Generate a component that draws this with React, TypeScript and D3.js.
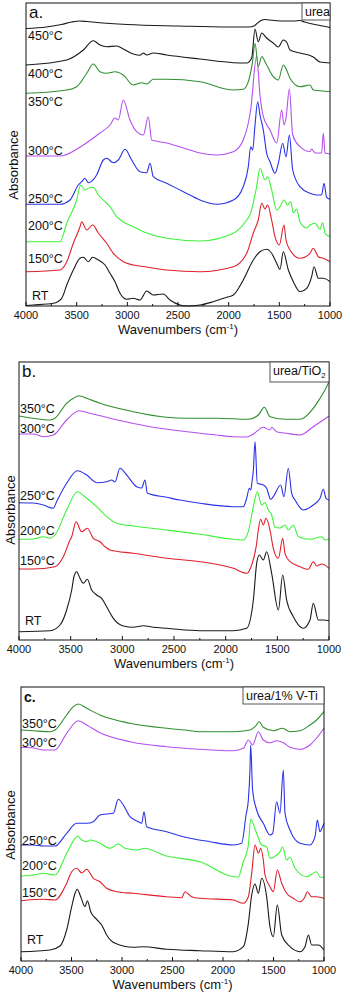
import * as d3 from "d3";

// wavenumber (cm-1), absorbance offset (a.u.)
type Pt = [number, number];

const WN_TICKS = [4000, 3500, 3000, 2500, 2000, 1500, 1000];
const WN_MINOR = [3750, 3250, 2750, 2250, 1750, 1250];

const A_RT: Pt[] = [[4000,0.5],[3928,1],[3730,2.7],[3648,7.7],[3598,21],[3533,36],[3467,47.7],[3434,48.7],[3385,44.3],[3342,48.7],[3286,46],[3220,41],[3171,32.7],[3122,24.3],[3072,12.7],[3007,6.7],[2941,7.7],[2875,6],[2809,15],[2744,11],[2645,12],[2579,6],[2480,1],[2415,0],[2283,1],[2152,4.3],[2020,8.7],[1954,11],[1856,26],[1757,46],[1691,54.3],[1625,56.7],[1576,52.7],[1526,42.7],[1493,36.7],[1461,54.3],[1411,36],[1362,24.3],[1296,14.3],[1230,17.7],[1181,29.3],[1158,39.3],[1115,27.7],[1066,27.7],[1000,24.3]];
const A_150: Pt[] = [[4000,34.3],[3664,36],[3598,44.3],[3533,62.7],[3467,79.3],[3451,84.3],[3401,76],[3342,81],[3286,73],[3204,62.7],[3138,52.7],[3040,44.3],[2941,41],[2826,39.3],[2612,36],[2283,34.3],[1954,39.3],[1822,52.7],[1757,73],[1708,86],[1674,102.7],[1642,97],[1615,101],[1576,86],[1543,69.3],[1500,61],[1454,81],[1434,66],[1395,56],[1296,47.7],[1198,52.7],[1165,57.7],[1115,49.3],[1066,47.7],[1000,44.3]];
const A_200: Pt[] = [[4000,64.3],[3664,64.3],[3598,82.7],[3500,106],[3460,121],[3418,116],[3385,117.7],[3336,118.7],[3286,111],[3220,104.3],[3171,99.3],[3105,89.3],[3040,84],[2941,79.3],[2842,74.3],[2612,67.7],[2283,65],[1954,72.7],[1822,86],[1790,91],[1724,119.3],[1691,137.7],[1642,126],[1615,129.3],[1576,116],[1526,96],[1493,99.3],[1454,106],[1421,101],[1388,104.3],[1362,93],[1329,97],[1296,84],[1230,78],[1198,81],[1148,82.7],[1099,76.7],[1072,83.3],[1049,72.7],[1000,69.3]];
const A_250: Pt[] = [[4000,101.7],[3664,101.7],[3566,106],[3484,121],[3451,124.3],[3418,127.7],[3385,123.3],[3303,131],[3237,146],[3204,147.7],[3138,143.3],[3089,146],[3023,156.7],[2957,146],[2875,134.3],[2809,133.3],[2776,142.7],[2744,129.3],[2612,122.7],[2447,114.3],[2283,106],[2118,101.7],[1954,106],[1856,119.3],[1806,139.3],[1783,159.3],[1763,156],[1740,181],[1714,204.3],[1691,191],[1658,176],[1625,152.7],[1592,144.3],[1543,132.7],[1510,142.7],[1467,162.7],[1434,149.3],[1401,171],[1368,136],[1296,119.3],[1198,112.7],[1132,111],[1083,111],[1059,122.7],[1033,108.7],[1000,106.7]];
const A_300: Pt[] = [[4000,150],[3664,150],[3434,161],[3270,173],[3171,181],[3122,188],[3089,186],[3040,206],[2974,186],[2908,174.3],[2842,171],[2793,189.3],[2760,166],[2612,163],[2447,158],[2283,153],[2118,151],[1954,154.3],[1856,166],[1806,183],[1783,196],[1724,250],[1691,211],[1658,189.3],[1592,176],[1526,163],[1477,196],[1454,181],[1434,188],[1401,217],[1368,171],[1296,159.3],[1198,154.3],[1181,157],[1148,153],[1083,153],[1066,173],[1049,153],[1000,152]];
const A_350: Pt[] = [[4000,212.7],[3598,216],[3500,219.3],[3401,232.7],[3336,242],[3270,234.3],[3204,232.7],[3122,234.3],[3040,231],[2941,221],[2858,223.3],[2809,222],[2744,226.7],[2612,226.7],[2283,224.3],[1954,216],[1856,216.7],[1806,224.3],[1767,242.7],[1740,262.7],[1708,239.3],[1674,249.3],[1625,241],[1560,229.3],[1510,226],[1461,241],[1428,236],[1395,227.7],[1296,219.3],[1198,221],[1165,216],[1099,215.3],[1000,214.3]];
const A_400: Pt[] = [[4000,241],[3598,246],[3434,256],[3336,265.3],[3270,261],[3204,259.3],[3105,260],[3040,257],[2941,252],[2875,250.7],[2842,253],[2809,251],[2744,253],[2612,251],[2283,247],[1954,243.3],[1822,243],[1773,248],[1740,277],[1708,264.3],[1674,273],[1625,268],[1560,263],[1510,259],[1461,266],[1428,264],[1395,256],[1296,253],[1165,249],[1099,244],[1000,243]];
const A_450: Pt[] = [[4000,277.5],[3800,279],[3650,281.5],[3550,284],[3470,285],[3400,284.5],[3300,283.5],[3000,281.5],[2500,280],[2000,279],[1800,279],[1750,280],[1720,282.5],[1680,285.5],[1640,286.5],[1600,286],[1550,285.5],[1450,285],[1350,285],[1300,285.5],[1250,284],[1150,281.5],[1000,278.5]];

const B_RT: Pt[] = [[4000,8.3],[3700,9.3],[3603,15],[3539,30],[3490,50],[3468,63.3],[3442,68.3],[3410,61.7],[3378,56.7],[3339,60.7],[3297,50],[3248,45],[3200,41.7],[3152,33.3],[3087,21.7],[2990,14],[2894,12.7],[2797,14.3],[2700,12.7],[2571,11.7],[2248,9.3],[1926,9.3],[1797,11.7],[1732,40],[1700,76.7],[1674,85],[1636,80],[1603,88.3],[1555,66.7],[1490,30],[1448,65],[1410,40],[1345,23.3],[1249,11.7],[1184,20],[1152,36.7],[1103,20],[1055,20],[1000,19.3]];
const B_150: Pt[] = [[4000,71],[3862,71],[3652,73.3],[3571,83.3],[3506,100],[3490,103.3],[3448,118.3],[3394,108.3],[3339,111.7],[3281,101.7],[3216,98.3],[3168,93.3],[3119,90],[2894,86.7],[2571,81.7],[2248,78.3],[1926,71.7],[1797,66.7],[1748,75],[1700,96.7],[1684,110],[1662,120.7],[1636,115],[1610,121.7],[1571,110],[1539,91.7],[1490,81.7],[1448,101.7],[1426,86.7],[1377,78.3],[1281,73.3],[1200,70.7],[1152,78.3],[1119,74],[1071,76],[1000,71.7]];
const B_200: Pt[] = [[4000,100.7],[3862,101],[3765,103.3],[3700,101.7],[3652,105],[3539,130],[3435,148.3],[3345,141.7],[3248,133.3],[3152,123.3],[3055,116.7],[2894,114],[2571,110],[2248,105.7],[1926,100.7],[1829,100],[1781,108.3],[1732,133.3],[1694,148.3],[1652,135],[1619,137.3],[1587,130],[1555,125],[1523,112.7],[1474,112],[1426,115],[1394,110],[1345,115],[1297,103.3],[1184,100.7],[1071,103.3],[1039,100],[1000,101]];
const B_250: Pt[] = [[4000,137.3],[3862,137],[3765,135],[3668,131.7],[3636,138.3],[3539,156.7],[3435,169.3],[3345,165],[3248,157.3],[3152,158.3],[3103,160],[3071,158],[3023,171.7],[2958,165],[2861,153.3],[2813,152],[2781,160],[2758,146.7],[2571,142.7],[2442,140],[2248,136.7],[1926,133.3],[1829,133.3],[1797,141.7],[1771,151.7],[1758,150],[1745,158.3],[1732,170],[1716,198.3],[1694,156.7],[1636,155],[1603,151.7],[1565,140.7],[1539,143.3],[1468,155],[1436,143.3],[1394,171.7],[1361,146.7],[1329,140],[1249,130],[1152,135],[1087,141.7],[1055,150.7],[1029,141.7],[1000,140]];
const B_300: Pt[] = [[4000,206],[3862,206],[3765,203.3],[3668,205],[3539,220],[3419,229.3],[3313,226.7],[3119,221.7],[2732,213.3],[2377,208.3],[2087,205],[1926,203.3],[1797,203],[1732,206],[1636,212.7],[1571,210],[1555,212.7],[1506,208.3],[1410,206.7],[1281,205],[1152,213.3],[1000,224]];
const B_350: Pt[] = [[4000,224],[3862,221.7],[3700,220],[3652,221.7],[3539,236.7],[3474,241.7],[3419,244.3],[3345,241.7],[3216,236.7],[2894,228.3],[2571,222.7],[2377,221.7],[2087,221.7],[1781,220.7],[1684,225],[1626,232.7],[1571,223.3],[1410,220.7],[1281,220.7],[1152,231.7],[1087,241.7],[1039,250],[1000,258.3]];

const C_RT: Pt[] = [[4000,9.3],[3713,11],[3614,15],[3548,31],[3498,54.3],[3465,67.7],[3443,71.7],[3409,64.3],[3366,54.3],[3343,60.3],[3310,49.3],[3251,41.7],[3201,36],[3152,26],[3069,17.7],[2888,13.7],[2789,14.3],[2558,11.7],[2228,10.3],[1898,9.3],[1799,14.3],[1749,37.7],[1716,66],[1683,77],[1650,67.7],[1617,82.7],[1568,64.3],[1535,34.3],[1502,24.3],[1462,56],[1419,26],[1337,14.3],[1238,9.3],[1188,14.3],[1155,26],[1122,16],[1056,16],[1000,11]];
const C_150: Pt[] = [[4000,60.3],[3779,61.7],[3663,61],[3548,77.7],[3498,89.3],[3449,92.7],[3399,88],[3350,91.7],[3284,82.7],[3218,79.3],[3152,72.7],[3053,69.3],[2888,67.7],[2558,64.3],[2409,63.3],[2376,69.3],[2343,67],[2310,64.3],[2228,62.7],[1898,61],[1799,57.7],[1749,64.3],[1716,87.7],[1683,116],[1650,107.7],[1627,112.7],[1601,101],[1584,86],[1535,74.3],[1502,69.3],[1462,91],[1419,77.7],[1370,67.7],[1304,62.7],[1238,59.3],[1188,64.3],[1166,69.3],[1122,64.3],[1073,64.3],[1000,62.7]];
const C_200: Pt[] = [[4000,85],[3878,86],[3779,87.7],[3663,86],[3548,107.7],[3465,122.7],[3443,125],[3399,121],[3350,119.3],[3317,121],[3218,117.7],[3119,112.7],[3037,117],[2970,112.7],[2855,111],[2782,112.7],[2558,105],[2228,99.3],[1898,84.3],[1848,84],[1799,99.3],[1772,106],[1749,116],[1726,141.7],[1667,127.7],[1617,116],[1568,114.3],[1535,102.7],[1469,106],[1436,109.3],[1410,114.3],[1370,101],[1337,103.7],[1287,92.7],[1172,84.3],[1073,89.3],[1040,84],[1000,83.7]];
const C_250: Pt[] = [[4000,116],[3878,116],[3779,115],[3663,115],[3548,127.7],[3449,137.7],[3350,137.7],[3284,139.3],[3218,146],[3152,147],[3086,147.7],[3037,161.7],[2987,156],[2921,144.3],[2838,139.3],[2805,137.7],[2782,149.3],[2756,134.3],[2558,129.3],[2393,124.3],[2129,119.3],[1898,116],[1815,117.7],[1772,146],[1749,161],[1733,191],[1726,216],[1707,171],[1667,151],[1601,137.7],[1535,126],[1508,127.7],[1469,159.3],[1436,147.7],[1403,191],[1386,147.7],[1337,131],[1238,117.7],[1139,116],[1089,124.3],[1066,141],[1040,129.3],[1007,136],[1000,137.7]];
const C_300: Pt[] = [[4000,213.7],[3878,213],[3779,211],[3663,211],[3548,227.7],[3433,240.3],[3350,236],[3218,228.3],[2921,219.3],[2558,214.3],[2228,211.7],[1898,210.3],[1799,212.7],[1749,221],[1707,216],[1650,229.3],[1601,221],[1535,218.3],[1469,220.3],[1403,218.3],[1337,213.7],[1238,211.7],[1139,216],[1000,232.7]];
const C_350: Pt[] = [[4000,231],[3878,230.3],[3713,229.3],[3663,231],[3548,246],[3482,254.3],[3433,257],[3350,252.7],[3218,246],[2921,237.7],[2558,232.7],[2376,231],[2228,229.3],[1898,229.3],[1733,231],[1683,234.3],[1641,239.3],[1601,233.7],[1502,230.3],[1410,232.7],[1337,229.3],[1238,230.3],[1139,236],[1073,241],[1000,249.3]];

const COL = {
  k: "#1a1a1a",
  dg: "#2f8f2f",
  pu: "#b450ee",
  bl: "#2a32e6",
  lg: "#3ef23a",
  rd: "#e0202c",
};

const FONT = "'Liberation Sans', Arial, Helvetica, sans-serif";

type Curve = { name: string; data: Pt[]; color: string; lx: number; ly: number };
type PanelCfg = {
  tag: string;
  tagSize: number;
  tagBold?: boolean;
  legend: React.ReactNode;
  legendW: number;
  legendH: number;
  x0: number; x1: number; y0: number; y1: number;
  curves: Curve[];
  absX: number; absY: number;
};

const panels: PanelCfg[] = [
  {
    tag: "a.", tagSize: 17, legend: "urea", legendW: 28, legendH: 17,
    x0: 26, x1: 330, y0: 3, y1: 306, absX: 13, absY: 165,
    curves: [
      { name: "RT", data: A_RT, color: COL.k, lx: 32, ly: 300 },
      { name: "150°C", data: A_150, color: COL.rd, lx: 28, ly: 263 },
      { name: "200°C", data: A_200, color: COL.lg, lx: 28, ly: 230 },
      { name: "250°C", data: A_250, color: COL.bl, lx: 28, ly: 203 },
      { name: "300°C", data: A_300, color: COL.pu, lx: 28, ly: 155 },
      { name: "350°C", data: A_350, color: COL.dg, lx: 28, ly: 106 },
      { name: "400°C", data: A_400, color: COL.k, lx: 28, ly: 78 },
      { name: "450°C", data: A_450, color: COL.k, lx: 28, ly: 40 },
    ],
  },
  {
    tag: "b.", tagSize: 17,
    legend: (<>urea/TiO<tspan fontSize={8} dy={3}>2</tspan></>),
    legendW: 59, legendH: 20,
    x0: 19, x1: 329, y0: 362, y1: 640, absX: 10, absY: 510,
    curves: [
      { name: "RT", data: B_RT, color: COL.k, lx: 25, ly: 625 },
      { name: "150°C", data: B_150, color: COL.rd, lx: 20, ly: 565 },
      { name: "200°C", data: B_200, color: COL.lg, lx: 20, ly: 535 },
      { name: "250°C", data: B_250, color: COL.bl, lx: 20, ly: 500 },
      { name: "300°C", data: B_300, color: COL.pu, lx: 20, ly: 433 },
      { name: "350°C", data: B_350, color: COL.dg, lx: 20, ly: 413 },
    ],
  },
  {
    tag: "c.", tagSize: 14, tagBold: true, legend: "urea/1% V-Ti", legendW: 81, legendH: 17,
    x0: 21, x1: 324, y0: 687, y1: 961, absX: 10, absY: 825,
    curves: [
      { name: "RT", data: C_RT, color: COL.k, lx: 27, ly: 944 },
      { name: "150°C", data: C_150, color: COL.rd, lx: 22, ly: 897 },
      { name: "200°C", data: C_200, color: COL.lg, lx: 22, ly: 870 },
      { name: "250°C", data: C_250, color: COL.bl, lx: 22, ly: 845 },
      { name: "300°C", data: C_300, color: COL.pu, lx: 22, ly: 747 },
      { name: "350°C", data: C_350, color: COL.dg, lx: 22, ly: 728 },
    ],
  },
];

function Panel({ p }: { p: PanelCfg }) {
  const x = d3.scaleLinear().domain([4000, 1000]).range([p.x0, p.x1]);
  const y = d3.scaleLinear().domain([0, p.y1 - p.y0]).range([p.y1, p.y0]);
  const line = d3
    .line<Pt>()
    .x((d) => x(d[0]))
    .y((d) => y(d[1]))
    .curve(d3.curveMonotoneX);
  const cx = (p.x0 + p.x1) / 2;
  return (
    <g>
      {p.curves.map((c) => (
        <path key={c.name + c.color} d={line(c.data) ?? ""} fill="none" stroke={c.color} strokeWidth={1.1} strokeLinejoin="round" />
      ))}
      {p.curves.map((c) => (
        <text key={"l" + c.name} x={c.lx} y={c.ly} fontSize={12.5} fill="#111">{c.name}</text>
      ))}
      <rect x={p.x0} y={p.y0} width={p.x1 - p.x0} height={p.y1 - p.y0} fill="none" stroke="#111" strokeWidth={1} />
      {WN_TICKS.map((t) => (
        <g key={t}>
          <line x1={x(t)} x2={x(t)} y1={p.y1} y2={p.y1 - 4} stroke="#111" />
          <text x={x(t)} y={p.y1 + 13} textAnchor="middle" fontSize={11} fill="#111">{t}</text>
        </g>
      ))}
      {WN_MINOR.map((t) => (
        <line key={t} x1={x(t)} x2={x(t)} y1={p.y1} y2={p.y1 - 2} stroke="#111" />
      ))}
      <text x={cx} y={p.y1 + 28} textAnchor="middle" fontSize={13} fill="#111">
        Wavenumbers (cm<tspan fontSize={8} dy={-5}>-1</tspan><tspan dy={5}>)</tspan>
      </text>
      <text transform={`translate(${p.absX},${p.absY}) rotate(-90)`} textAnchor="middle" dy="0.35em" fontSize={13} fill="#111">
        Absorbance
      </text>
      <text x={p.x0 + 3} y={p.y0 + 15} fontSize={p.tagSize} fontWeight={p.tagBold ? "bold" : "normal"} fill="#111">{p.tag}</text>
      <rect x={p.x1 - p.legendW} y={p.y0} width={p.legendW} height={p.legendH} fill="#fff" stroke="#555" strokeWidth={1} />
      <text x={p.x1 - p.legendW + 3} y={p.y0 + 13} fontSize={12.5} fill="#111">{p.legend}</text>
    </g>
  );
}

export default function App() {
  return (
    <svg width={343} height={992} style={{ position: "absolute", left: 0, top: 0, background: "#fff", fontFamily: FONT }}>
      <rect width={343} height={992} fill="#fff" />
      {panels.map((p) => (
        <Panel key={p.tag} p={p} />
      ))}
    </svg>
  );
}
